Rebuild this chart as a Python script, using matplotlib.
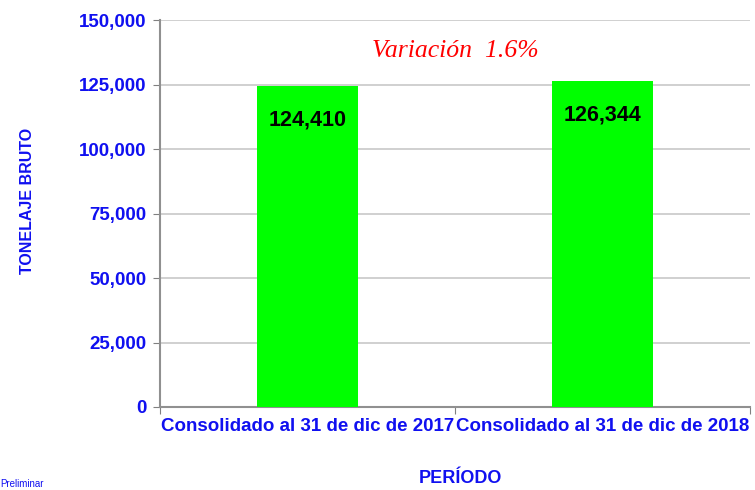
import matplotlib.pyplot as plt
from matplotlib.ticker import FuncFormatter, FixedLocator

periodos = ['Consolidado al 31 de dic de 2017', 'Consolidado al 31 de dic de 2018']
tonelaje = [124410, 126344]
variacion = '1.6%'
y_ticks = [0, 25000, 50000, 75000, 100000, 125000, 150000]

AZUL = '#1010F0'
VERDE = '#00FF00'
SANS = ['Liberation Sans', 'DejaVu Sans']

fig = plt.figure(figsize=(7.55, 4.9), dpi=100)
ax = fig.add_axes([0.212, 0.1694, 0.7814, 0.7896])

x = list(range(len(periodos)))
ax.bar(x, tonelaje, width=0.34, color=VERDE, zorder=3)
# etiquetas de valor dentro de la barra
for xi, v in zip(x, tonelaje):
    ax.text(xi, v - 13000, f'{v:,}', ha='center', va='center',
            fontsize=15.5, fontweight='bold', color='black',
            family=SANS, zorder=4)

ax.text(0.5, 138000, f'Variación  {variacion}', ha='center', va='center',
        fontsize=18.5, style='italic', color='red',
        family=['Liberation Serif', 'DejaVu Serif'])

ax.set_xlim(-0.5, 1.5)
ax.set_ylim(0, 150000)
ax.yaxis.set_major_locator(FixedLocator(y_ticks))
ax.yaxis.set_major_formatter(FuncFormatter(lambda v, p: f'{int(v):,}'))
ax.grid(axis='y', color='#C8C8C8', linewidth=1.2, zorder=0)

ax.set_xticks([-0.5, 0.5, 1.5], minor=False)
ax.set_xticklabels([])
ax.set_xticks(x, minor=True)
ax.set_xticklabels(periodos, minor=True)
ax.tick_params(axis='x', which='minor', length=0, pad=8)
ax.tick_params(axis='x', which='major', length=5, color='#808080', direction='out')
ax.tick_params(axis='y', length=5, color='#808080', direction='out', pad=5)

for lab in ax.get_yticklabels():
    lab.set_fontsize(13.5)
    lab.set_fontweight('bold')
    lab.set_color(AZUL)
    lab.set_family(SANS)
for lab in ax.get_xticklabels(minor=True):
    lab.set_fontsize(13.5)
    lab.set_fontweight('bold')
    lab.set_color(AZUL)
    lab.set_family(SANS)

for s in ['top', 'right']:
    ax.spines[s].set_visible(False)
for s in ['left', 'bottom']:
    ax.spines[s].set_color('#909090')
    ax.spines[s].set_linewidth(1.5)

fig.text(0.036, 0.59, 'TONELAJE BRUTO', rotation=90, ha='center', va='center',
         fontsize=11.5, fontweight='bold', color=AZUL, family=SANS)
fig.text(0.61, 0.024, 'PERÍODO', ha='center', va='center',
         fontsize=13, fontweight='bold', color=AZUL, family=SANS)
fig.text(0.0, 0.002, 'Preliminar', ha='left', va='bottom',
         fontsize=7, color=AZUL, family=SANS)

fig.savefig('out.png', dpi=100)
